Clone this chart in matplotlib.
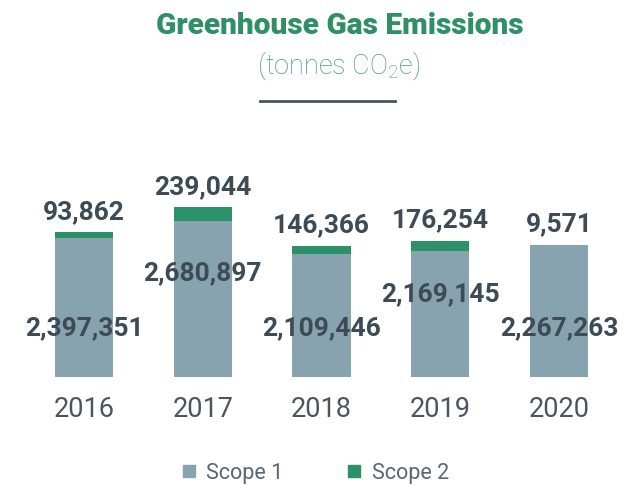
import matplotlib.pyplot as plt
from matplotlib.lines import Line2D

# =====================================================
# Data
# =====================================================
years = ["2016", "2017", "2018", "2019", "2020"]
scope1 = [2397351, 2680897, 2109446, 2169145, 2267263]
scope2 = [93862, 239044, 146366, 176254, 9571]

# heights (data units) where the scope 1 labels sit
scope1_label_y = [843000, 1790000, 843000, 1430000, 843000]

GREY = "#87a3b0"
GREEN = "#2a9168"
DARK = "#3d4b56"
TITLE_GREEN = "#2f8f66"

plt.rcParams["font.family"] = ["Roboto", "DejaVu Sans"]
plt.rcParams["mathtext.fontset"] = "custom"
plt.rcParams["mathtext.rm"] = "Roboto:light"

# =====================================================
# Figure
# =====================================================
fig = plt.figure(figsize=(6.27, 4.86), dpi=100)
ax = fig.add_axes([24.6 / 627, 1 - 377 / 486, 593.75 / 627, 247 / 486])

x = list(range(len(years)))
ax.bar(x, scope1, width=0.49, color=GREY, label="Scope 1")
ax.bar(x, scope2, width=0.49, bottom=scope1, color=GREEN, label="Scope 2")

for i in x:
    ax.text(i, scope1_label_y[i], f"{scope1[i]:,}", ha="center", va="center",
            fontsize=19, fontweight="bold", color=DARK)
    ax.annotate(f"{scope2[i]:,}", (i, scope1[i] + scope2[i]),
                xytext=(0, 14.5), textcoords="offset points",
                ha="center", va="center", fontsize=19, fontweight="bold", color=DARK)

ax.set_xlim(-0.5, 4.5)
ax.set_ylim(0, 247 * 17200)
ax.set_xticks(x)
ax.set_xticklabels(years, fontsize=19.5, color="#4a5560")
ax.tick_params(axis="x", length=0, pad=14)
ax.set_yticks([])
for s in ax.spines.values():
    s.set_visible(False)

# =====================================================
# Titles
# =====================================================
fig.text(0.542, 1 - 26 / 486, "Greenhouse Gas Emissions", ha="center", va="center",
         fontsize=21.5, fontweight="heavy", color=TITLE_GREEN)
fig.text(0.540, 1 - 66 / 486, r"(tonnes CO$_2$e)", ha="center", va="center",
         fontsize=19.5, fontweight="light", color="#45a078")
fig.add_artist(Line2D([260 / 627, 395 / 627], [1 - 101 / 486, 1 - 101 / 486],
                      color="#4a5560", linewidth=2))

# =====================================================
# Legend
# =====================================================
handles = [
    Line2D([], [], marker="s", linestyle="none", markersize=9, color=GREY, label="Scope 1"),
    Line2D([], [], marker="s", linestyle="none", markersize=9, color=GREEN, label="Scope 2"),
]
fig.legend(handles=handles, loc="center", bbox_to_anchor=(0.5, 1 - 473 / 486),
           ncol=2, frameon=False, fontsize=15.5, labelcolor="#5a6670",
           handletextpad=0.3, columnspacing=2.8, handlelength=1.0)

fig.savefig("out.png", dpi=100)
